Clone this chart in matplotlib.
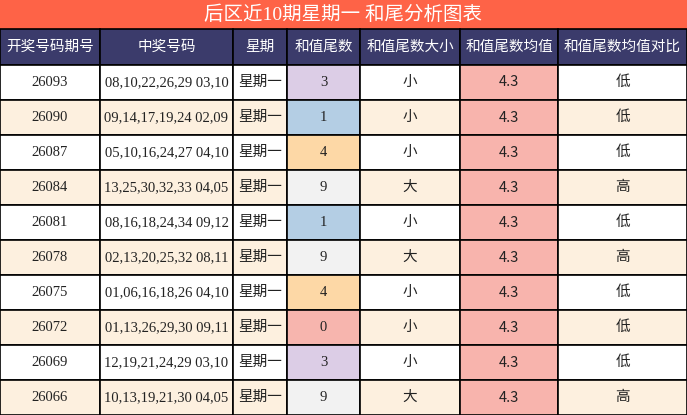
import matplotlib.pyplot as plt
from matplotlib.patches import Rectangle

plt.rcParams['font.family'] = ['Liberation Serif', 'Noto Sans CJK SC', 'DejaVu Sans']

title = "后区近10期星期一 和尾分析图表"
headers = ["开奖号码期号", "中奖号码", "星期", "和值尾数", "和值尾数大小", "和值尾数均值", "和值尾数均值对比"]
issues = ["26093", "26090", "26087", "26084", "26081", "26078", "26075", "26072", "26069", "26066"]
numbers = ["08,10,22,26,29 03,10", "09,14,17,19,24 02,09", "05,10,16,24,27 04,10",
           "13,25,30,32,33 04,05", "08,16,18,24,34 09,12", "02,13,20,25,32 08,11",
           "01,06,16,18,26 04,10", "01,13,26,29,30 09,11", "12,19,21,24,29 03,10",
           "10,13,19,21,30 04,05"]
weekday = ["星期一"] * 10
tails = [3, 1, 4, 9, 1, 9, 4, 0, 3, 9]
sizes = ["小", "小", "小", "大", "小", "大", "小", "小", "小", "大"]
means = ["4.3"] * 10
compare = ["低", "低", "低", "高", "低", "高", "低", "低", "低", "高"]

col_x = [0, 100, 233, 287, 360, 460, 558, 687]
title_h = 29
head_h = 36
row_h = 35
tail_colors = {0: '#f7b5ae', 1: '#b4cee4', 3: '#dccde6', 4: '#fdd8a6', 9: '#f2f2f2'}
row_bg = ['#ffffff', '#fdf0df']
mean_bg = '#f8b4ad'

fig = plt.figure(figsize=(6.87, 4.15), dpi=100)
ax = fig.add_axes([0, 0, 1, 1])
ax.set_xlim(0, 687)
ax.set_ylim(415, 0)
ax.axis('off')

ax.add_patch(Rectangle((0, 0), 687, title_h, facecolor='#fe6347', edgecolor='none'))
ax.text(343.5, title_h / 2, title, color='white', fontsize=14, ha='center', va='center')

y0 = title_h
for j, h in enumerate(headers):
    ax.add_patch(Rectangle((col_x[j], y0), col_x[j + 1] - col_x[j], head_h,
                           facecolor='#3b3b6b', edgecolor='black', lw=1.2))
    ax.text((col_x[j] + col_x[j + 1]) / 2, y0 + head_h / 2, h, color='white',
            fontsize=10.5, ha='center', va='center')

for i in range(len(issues)):
    y = y0 + head_h + i * row_h
    vals = [issues[i], numbers[i], weekday[i], str(tails[i]), sizes[i], means[i], compare[i]]
    for j, v in enumerate(vals):
        fc = row_bg[i % 2]
        if j == 3:
            fc = tail_colors[tails[i]]
        elif j == 5:
            fc = mean_bg
        ax.add_patch(Rectangle((col_x[j], y), col_x[j + 1] - col_x[j], row_h,
                               facecolor=fc, edgecolor='black', lw=1.2))
        fam = ['Noto Sans CJK SC', 'DejaVu Sans'] if j == 5 else None
        ax.text((col_x[j] + col_x[j + 1]) / 2, y + row_h / 2, v, color='#222222',
                fontsize=10.5, ha='center', va='center', family=fam)

fig.savefig('out.png', dpi=100)
